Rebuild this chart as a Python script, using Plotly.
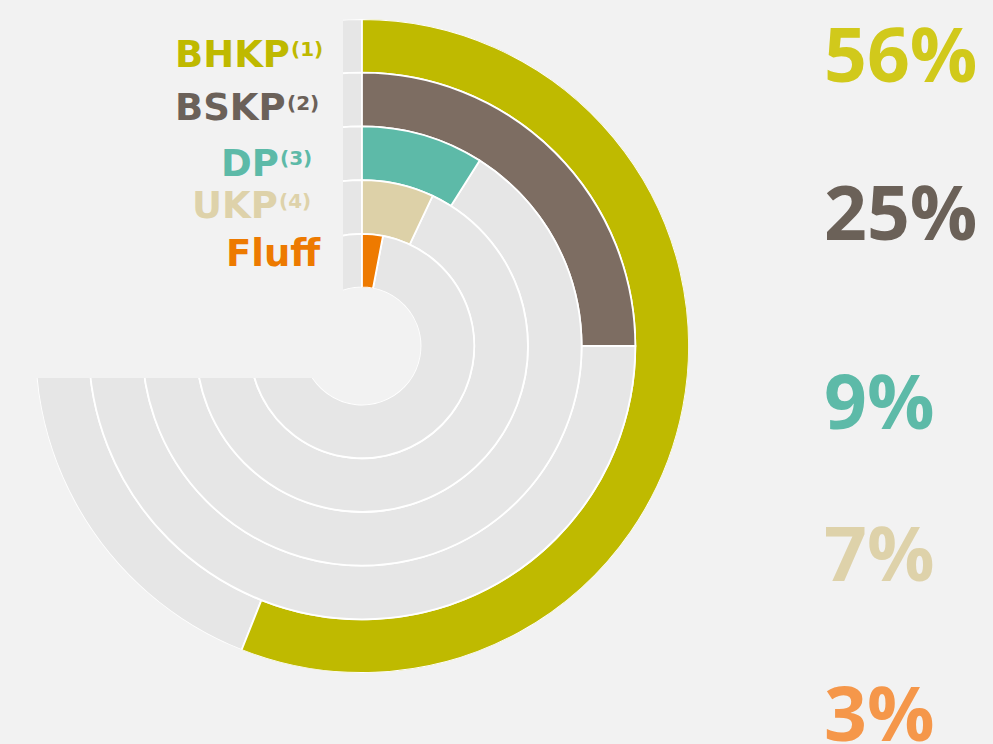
import plotly.graph_objects as go

# ---- data ----
categories = ["BHKP", "BSKP", "DP", "UKP", "Fluff"]
superscripts = ["(1)", "(2)", "(3)", "(4)", ""]
values = [56, 25, 9, 7, 3]          # percent of full circle
pct_labels = ["56%", "25%", "9%", "7%", "3%"]

# ---- styles ----
bar_colors = ["#bfba00", "#7d6d62", "#5dbaa8", "#ddd1a8", "#ee7a00"]
label_colors = ["#bfb900", "#6b6159", "#5dbaa8", "#ded2aa", "#ed7a00"]
pct_colors = ["#d1c91b", "#6b6158", "#5dbaa8", "#ded2aa", "#f5974a"]
track_color = "#e6e6e6"
bg = "#f2f2f2"

W, H = 993, 744
cx, cy, R = 362, 346, 327
hole_r = 58.5

fig = go.Figure()

n = len(categories)
for i, (cat, v, col) in enumerate(zip(categories, values, bar_colors)):
    ring = n - 1 - i  # outermost ring for first category
    ang = v * 3.6
    # grey remainder track
    fig.add_trace(go.Barpolar(
        r=[1], base=[ring], theta=[ang + (360 - ang) / 2], width=[360 - ang],
        marker=dict(color=track_color, line=dict(color="white", width=1.8)),
        hoverinfo="skip", showlegend=False))
    # coloured value bar
    fig.add_trace(go.Barpolar(
        r=[1], base=[ring], theta=[ang / 2], width=[ang],
        marker=dict(color=col, line=dict(color="white", width=1.8)),
        name=cat, showlegend=False))

fig.update_layout(
    width=W, height=H,
    margin=dict(l=0, r=0, t=0, b=0),
    paper_bgcolor=bg, plot_bgcolor=bg,
    polar=dict(
        domain=dict(x=[(cx - R) / W, (cx + R) / W],
                    y=[(H - cy - R) / H, (H - cy + R) / H]),
        hole=hole_r / R,
        bgcolor=bg,
        radialaxis=dict(visible=False, range=[0, n]),
        angularaxis=dict(visible=False, direction="clockwise", rotation=90),
    ),
)

# cover rectangle hiding the upper-left quadrant of the tracks
fig.add_shape(type="rect", xref="paper", yref="paper",
              x0=0, x1=343 / W, y0=(H - 378) / H, y1=1,
              fillcolor=bg, line=dict(width=0), layer="above")

# category labels
label_y = [54, 108, 163, 206, 253]
label_right = [292, 288, 281, 280, 323]
for cat, sup, col, y, xr in zip(categories, superscripts, label_colors, label_y, label_right):
    fig.add_annotation(text=cat, x=xr / W, y=1 - y / H, xref="paper", yref="paper",
                       xanchor="right", yanchor="middle", showarrow=False,
                       font=dict(family="DejaVu Sans", size=37, color=col, weight="bold"))
    if sup:
        fig.add_annotation(text=sup, x=(xr - 3) / W, y=1 - (y - 5) / H, xref="paper", yref="paper",
                           xanchor="left", yanchor="middle", showarrow=False,
                           font=dict(family="DejaVu Sans", size=20, color=col, weight="bold"))

# percentage labels
pct_y = [53, 211, 400, 552, 712]
for txt, col, y in zip(pct_labels, pct_colors, pct_y):
    fig.add_annotation(text=txt, x=822 / W, y=1 - y / H, xref="paper", yref="paper",
                       xanchor="left", yanchor="middle", showarrow=False,
                       font=dict(family="Open Sans", size=75, color=col, weight="bold"))

fig.write_html("out.html", config={"displayModeBar": False},
               post_script="document.body.style.margin='0';document.body.style.background='#f2f2f2';")
